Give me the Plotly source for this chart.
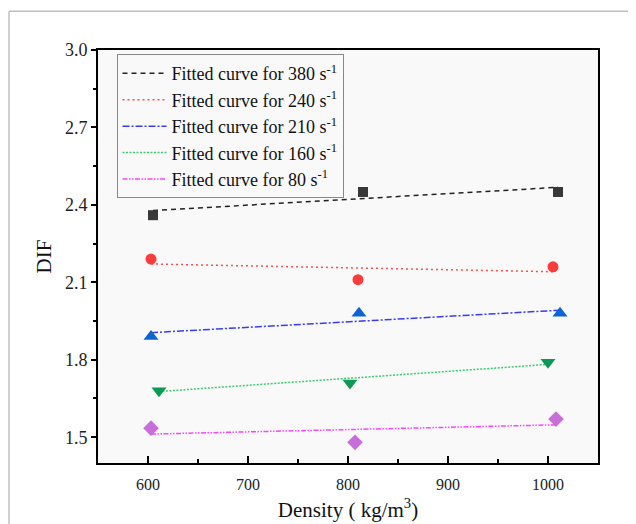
import plotly.graph_objects as go

# ---- data ----
density_380 = [605, 815, 1010]
dif_380 = [2.36, 2.45, 2.45]
density_240 = [603, 810, 1005]
dif_240 = [2.19, 2.11, 2.16]
density_210 = [603, 811, 1012]
dif_210 = [1.89, 1.98, 1.98]
density_160 = [611, 802, 1000]
dif_160 = [1.68, 1.71, 1.79]
density_80 = [603, 807, 1008]
dif_80 = [1.535, 1.48, 1.57]

fit_x_380 = [605, 1010]
fit_y_380 = [2.378, 2.468]
fit_x_240 = [603, 1005]
fit_y_240 = [2.171, 2.141]
fit_x_210 = [603, 1012]
fit_y_210 = [1.905, 1.992]
fit_x_160 = [611, 1000]
fit_y_160 = [1.677, 1.782]
fit_x_80 = [603, 1008]
fit_y_80 = [1.512, 1.548]

labels = ["380", "240", "210", "160", "80"]

series = [
    (density_380, dif_380, fit_x_380, fit_y_380, "square", 10, "#383838", "#222222", "5px,4px"),
    (density_240, dif_240, fit_x_240, fit_y_240, "circle", 11, "#ff3a3a", "#ff4d4d", "2px,3px"),
    (density_210, dif_210, fit_x_210, fit_y_210, "triangle-up", 13, "#0a66d6", "#3a3aff", "7px,2px,2px,2px"),
    (density_160, dif_160, fit_x_160, fit_y_160, "triangle-down", 13, "#0a9a55", "#3ccc70", "2px,1.5px"),
    (density_80, dif_80, fit_x_80, fit_y_80, "diamond", 12, "#c86ddc", "#ff44ff", "5px,1.5px,1.5px,1.5px,1.5px,1.5px"),
]

fig = go.Figure()
for lab, (xs, ys, fx, fy, sym, sz, mcol, lcol, dash) in zip(labels, series):
    fig.add_trace(go.Scatter(
        x=fx, y=fy, mode="lines",
        line=dict(color=lcol, width=1.5, dash=dash),
        name=f"Fitted curve for {lab} s<sup>-1</sup>",
    ))
for lab, (xs, ys, fx, fy, sym, sz, mcol, lcol, dash) in zip(labels, series):
    fig.add_trace(go.Scatter(
        x=xs, y=ys, mode="markers",
        marker=dict(symbol=sym, size=sz, color=mcol, line=dict(width=0)),
        showlegend=False,
    ))

serif = "Liberation Serif"

fig.update_layout(
    width=636, height=524,
    margin=dict(l=90, r=46, t=42, b=69, autoexpand=False),
    paper_bgcolor="white",
    plot_bgcolor="#f9f9f9",
    font=dict(family=serif, color="#111111"),
    showlegend=True,
    legend=dict(
        x=0.037, y=0.99, xanchor="left", yanchor="top",
        bgcolor="#f9f9f9", bordercolor="#888888", borderwidth=1,
        font=dict(family=serif, size=18, color="#111111"),
        tracegroupgap=0, itemwidth=44,
    ),
    xaxis=dict(
        range=[550, 1050], tick0=600, dtick=100,
        ticks="inside", ticklen=7, tickwidth=1.5, tickcolor="black",
        minor=dict(dtick=50, ticks="inside", ticklen=4, tickwidth=1.5, tickcolor="black"),
        showline=True, linecolor="black", linewidth=2, mirror=True,
        showgrid=False, zeroline=False, automargin=False,
        ticklabelstandoff=6,
        tickfont=dict(family=serif, size=16, color="#222222"),
        title=dict(text="Density ( kg/m<sup>3</sup>)", font=dict(family=serif, size=21, color="#111111"), standoff=10),
    ),
    yaxis=dict(
        range=[1.4, 3.0], tick0=1.5, dtick=0.3, tickformat=".1f",
        ticks="outside", ticklen=5, tickwidth=1.5, tickcolor="black",
        minor=dict(dtick=0.15, ticks="outside", ticklen=3, tickwidth=1.5, tickcolor="black"),
        showline=True, linecolor="black", linewidth=2, mirror=True,
        showgrid=False, zeroline=False, automargin=False,
        tickfont=dict(family=serif, size=18, color="#222222"),
        title=dict(text="DIF", font=dict(family=serif, size=21, color="#111111"), standoff=8),
    ),
    shapes=[
        dict(type="line", xref="paper", yref="paper", x0=-0.178, x1=1.2, y0=1.094, y1=1.094,
             line=dict(color="#c0c0c0", width=1.5)),
        dict(type="line", xref="paper", yref="paper", x0=-0.178, x1=-0.178, y0=1.094, y1=-0.2,
             line=dict(color="#c0c0c0", width=1.5)),
    ],
)

fig.write_html("out.html")
